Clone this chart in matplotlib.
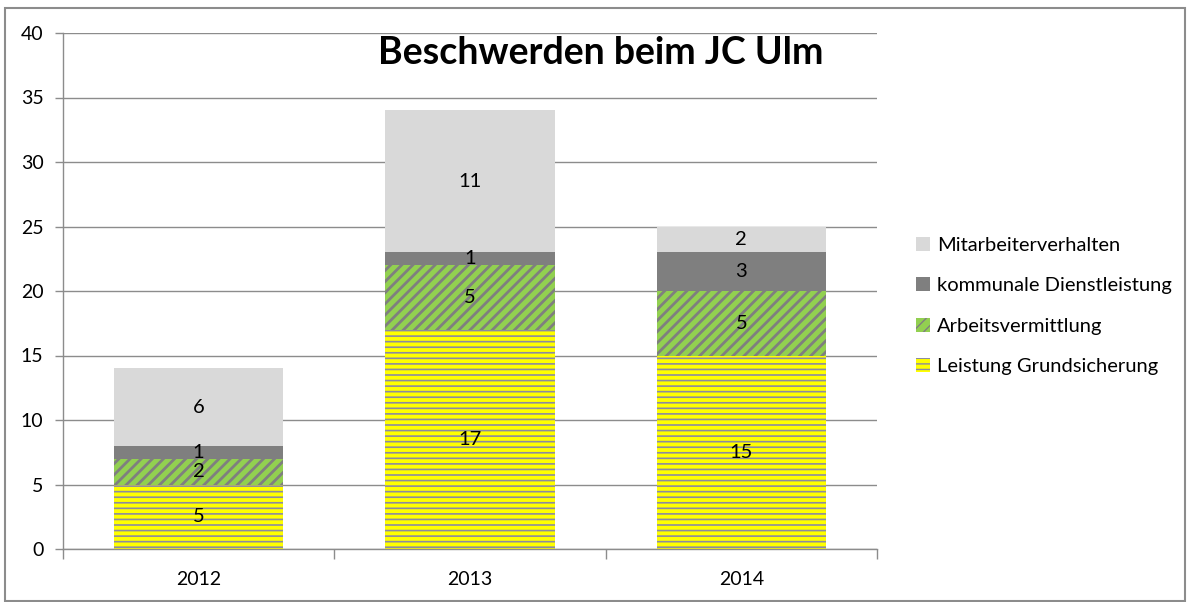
import matplotlib.pyplot as plt
import numpy as np
from matplotlib.patches import Rectangle

plt.rcParams["font.family"] = ["Lato", "DejaVu Sans"]

jahre = ["2012", "2013", "2014"]
grundsicherung = [5, 17, 15]
arbeitsvermittlung = [2, 5, 5]
dienstleistung = [1, 1, 3]
mitarbeiter = [6, 11, 2]

# name, werte, farbe, schraffur-farbe, schraffur, schraffur-linienbreite
serien = [
    ("Leistung Grundsicherung", grundsicherung, "#FFFF00", "#8C8CA0", "---", 1.2),
    ("Arbeitsvermittlung", arbeitsvermittlung, "#92D050", "#7F7F7F", "///", 2.0),
    ("kommunale Dienstleistung", dienstleistung, "#7F7F7F", None, None, 1.0),
    ("Mitarbeiterverhalten", mitarbeiter, "#D9D9D9", None, None, 1.0),
]

fig = plt.figure(figsize=(11.9, 6.02), dpi=100)
ax = fig.add_axes([63 / 1190, 1 - 549 / 602, (877 - 63) / 1190, (549 - 33) / 602])

x = np.arange(len(jahre))
unten = np.zeros(len(jahre))
for name, werte, farbe, schraffur_farbe, schraffur, hlw in serien:
    werte = np.array(werte, dtype=float)
    with plt.rc_context({"hatch.linewidth": hlw}):
        bars = ax.bar(x, werte, 0.625, bottom=unten, color=farbe,
                      edgecolor=schraffur_farbe if schraffur_farbe else farbe,
                      linewidth=0, hatch=schraffur, label=name, zorder=2)
    for b, w in zip(bars, werte):
        if hasattr(b, "set_hatch_linewidth"):
            b.set_hatch_linewidth(hlw)
        ax.text(b.get_x() + b.get_width() / 2, b.get_y() + w / 2, f"{int(w)}",
                ha="center", va="center", fontsize=14.5, color="black", zorder=3)
    unten += werte

ax.set_xlim(-0.5, len(jahre) - 0.5)
ax.set_ylim(0, 40)
ax.set_yticks(np.arange(0, 41, 5))
ax.yaxis.grid(True, color="#8C8C8C", linewidth=1)
ax.set_axisbelow(True)
ax.set_xticks(x)
ax.set_xticklabels(jahre)
ax.set_xticks(np.arange(-0.5, len(jahre)), minor=True)
ax.tick_params(axis="x", which="major", length=0, pad=16, labelsize=14)
ax.tick_params(axis="x", which="minor", length=7, color="#8C8C8C", width=1)
ax.tick_params(axis="y", length=6, color="#8C8C8C", width=1, pad=8, labelsize=14)
for s in ["top", "right"]:
    ax.spines[s].set_visible(False)
for s in ["left", "bottom"]:
    ax.spines[s].set_color("#8C8C8C")
    ax.spines[s].set_linewidth(1)

ax.text(601 / 1190, 0.941, "Beschwerden beim JC Ulm", transform=fig.transFigure,
        ha="center", va="top", fontsize=27, fontweight="bold")

handles, labels = ax.get_legend_handles_labels()
ax.legend(handles[::-1], labels[::-1], loc="center left",
          bbox_to_anchor=(898 / 1190, 1 - 306 / 602), bbox_transform=fig.transFigure,
          frameon=False, fontsize=14.5, handlelength=0.7, handleheight=0.7,
          handletextpad=0.35, labelspacing=1.15)

fig.patches.append(Rectangle((5 / 1190, 1 / 602), 1180 / 1190, 593 / 602,
                             transform=fig.transFigure, fill=False,
                             edgecolor="#8C8C8C", linewidth=1.5))

fig.savefig("out.png", dpi=100)
